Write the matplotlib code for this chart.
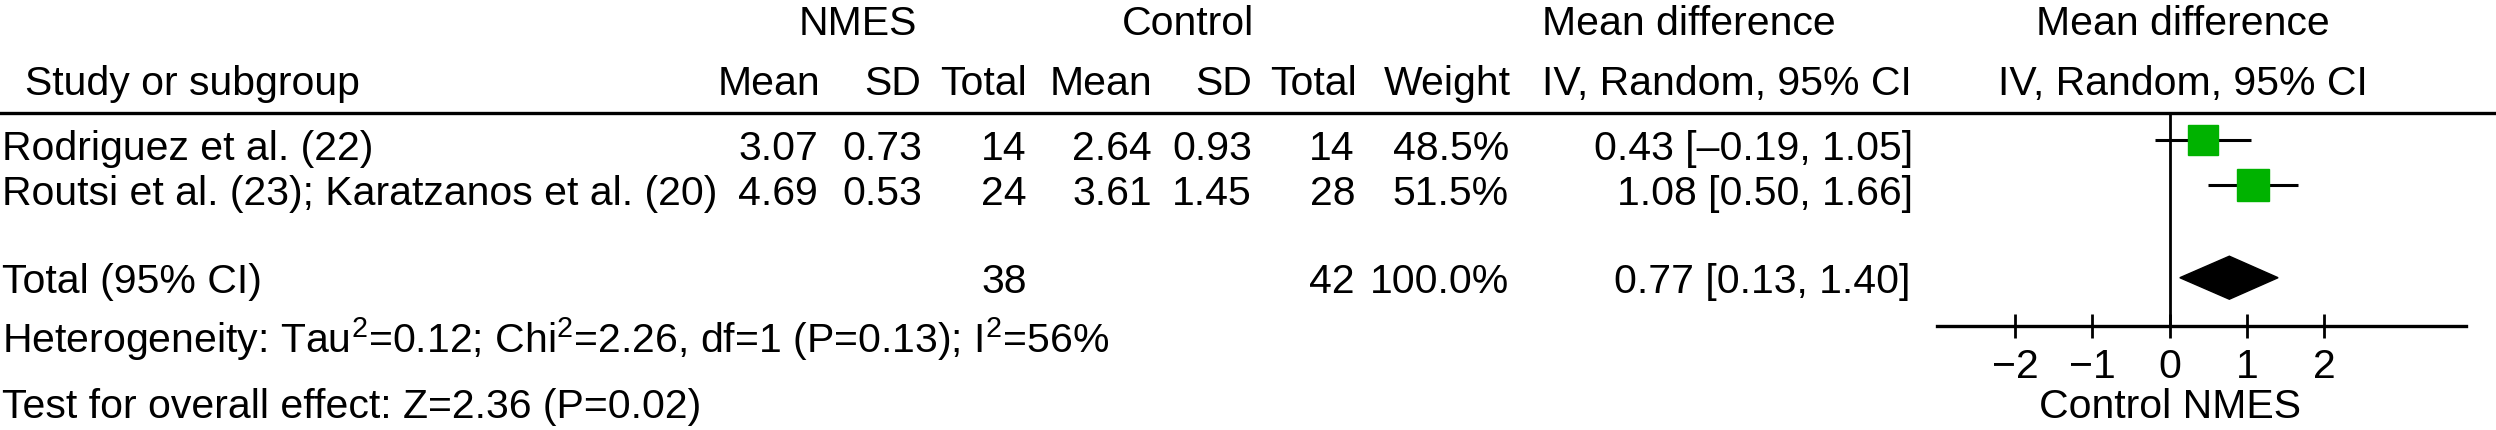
import matplotlib
matplotlib.use("Agg")
import matplotlib.pyplot as plt
from matplotlib.lines import Line2D
import numpy as np

# ---------------- data ----------------
studies = ["Rodriguez et al. (22)", "Routsi et al. (23); Karatzanos et al. (20)"]
nmes_mean = [3.07, 4.69]
nmes_sd = [0.73, 0.53]
nmes_n = [14, 24]
ctrl_mean = [2.64, 3.61]
ctrl_sd = [0.93, 1.45]
ctrl_n = [14, 28]
weights = [48.5, 51.5]
md = [0.43, 1.08]
ci_lo = [-0.19, 0.50]
ci_hi = [1.05, 1.66]
total_md = 0.77
total_lo = 0.13
total_hi = 1.40
total_nmes_n = 38
total_ctrl_n = 42
total_weight = "100.0%"
tick_values = [-2, -1, 0, 1, 2]
heterogeneity = "Heterogeneity: Tau$^{2}$=0.12; Chi$^{2}$=2.26, df=1 (P=0.13); I$^{2}$=56%"
overall = "Test for overall effect: Z=2.36 (P=0.02)"

# ---------------- style ----------------
plt.rcParams['font.family'] = ['Liberation Sans', 'DejaVu Sans']
plt.rcParams['mathtext.fontset'] = 'custom'
plt.rcParams['mathtext.rm'] = 'Liberation Sans'
plt.rcParams['mathtext.it'] = 'Liberation Sans:italic'
plt.rcParams['mathtext.bf'] = 'Liberation Sans:bold'

W, H = 2496, 430
DPI = 100
FS = 29.5
GREEN = '#00b200'

fig = plt.figure(figsize=(W / DPI, H / DPI), dpi=DPI)


def fx(px):
    return px / W


def fy(py):
    return 1 - py / H


def txt(px, py, s, ha='left'):
    fig.text(fx(px), fy(py), s, ha=ha, va='baseline', fontsize=FS, color='black')


def fmt_ci(m, lo, hi):
    f = lambda v: f"{v:.2f}".replace('-', '\u2013')
    return f"{f(m)} [{f(lo)}, {f(hi)}]"


# header row 1
B1, B2 = 35, 95
txt(858, B1, "NMES", ha='center')
txt(1188, B1, "Control", ha='center')
txt(1542, B1, "Mean difference")
txt(2183, B1, "Mean difference", ha='center')

# header row 2
txt(25, B2, "Study or subgroup")
for px, s in [(820, "Mean"), (921, "SD"), (1027, "Total"), (1152, "Mean"),
              (1252, "SD"), (1357, "Total"), (1511, "Weight")]:
    txt(px, B2, s, ha='right')
txt(1542, B2, "IV, Random, 95% CI")
txt(2183, B2, "IV, Random, 95% CI", ha='center')

# header rule
fig.add_artist(Line2D([0, 1], [fy(113), fy(113)], transform=fig.transFigure,
                      color='black', lw=2.4))

# study rows
row_base = [160, 205]
for i, name in enumerate(studies):
    b = row_base[i]
    txt(2, b, name)
    txt(818, b, f"{nmes_mean[i]:.2f}", ha='right')
    txt(922, b, f"{nmes_sd[i]:.2f}", ha='right')
    txt(1027, b, f"{nmes_n[i]}", ha='right')
    txt(1152, b, f"{ctrl_mean[i]:.2f}", ha='right')
    txt(1252, b, f"{ctrl_sd[i]:.2f}", ha='right')
    txt(1355, b, f"{ctrl_n[i]}", ha='right')
    txt(1509, b, f"{weights[i]:.1f}%", ha='right')
    txt(1913, b, fmt_ci(md[i], ci_lo[i], ci_hi[i]), ha='right')

# total row
TB = 293
txt(2, TB, "Total (95% CI)")
txt(1027, TB, f"{total_nmes_n}", ha='right')
txt(1355, TB, f"{total_ctrl_n}", ha='right')
txt(1509, TB, total_weight, ha='right')
txt(1910, TB, fmt_ci(total_md, total_lo, total_hi), ha='right')

txt(2, 353, heterogeneity)
txt(2, 418, overall)

# ---------------- forest axes ----------------
ax_left, ax_right, ax_top, ax_bot = 1937, 2466, 113, 326
ax = fig.add_axes([fx(ax_left), fy(ax_bot), fx(ax_right - ax_left), (ax_bot - ax_top) / H])
ax.set_xlim(-3.01, 3.83)
ax.set_ylim(4.133, -0.6)
ax.patch.set_alpha(0)

for s in ['top', 'left', 'right']:
    ax.spines[s].set_visible(False)
ax.spines['bottom'].set_linewidth(2.4)
ax.set_yticks([])
ax.set_xticks(tick_values)
ax.set_xticklabels([f"{v}".replace('-', '\u2212') for v in tick_values])
ax.tick_params(axis='x', direction='inout', length=17, width=2, pad=7, labelsize=FS)

ax.axvline(0, color='black', lw=2)

rows = np.arange(len(studies))
for i in rows:
    ax.plot([ci_lo[i], ci_hi[i]], [i, i], color='black', lw=2.2, solid_capstyle='butt', zorder=2)
    ax.plot([md[i]], [i], marker='s', ms=22.3 * np.sqrt(weights[i] / 50.0),
            color=GREEN, mec=GREEN, ls='none', zorder=3)

ty = 3.06
hh = 0.478
ax.fill([total_lo, total_md, total_hi, total_md], [ty, ty - hh, ty, ty + hh],
        color='black', zorder=3)

t = ax.text(0, 0, "Control NMES", transform=ax.get_xaxis_transform(), ha='center',
            va='baseline', fontsize=FS)
t.set_position((0, -(418 - ax_bot) / (ax_bot - ax_top)))

fig.savefig("out.png", dpi=DPI)
